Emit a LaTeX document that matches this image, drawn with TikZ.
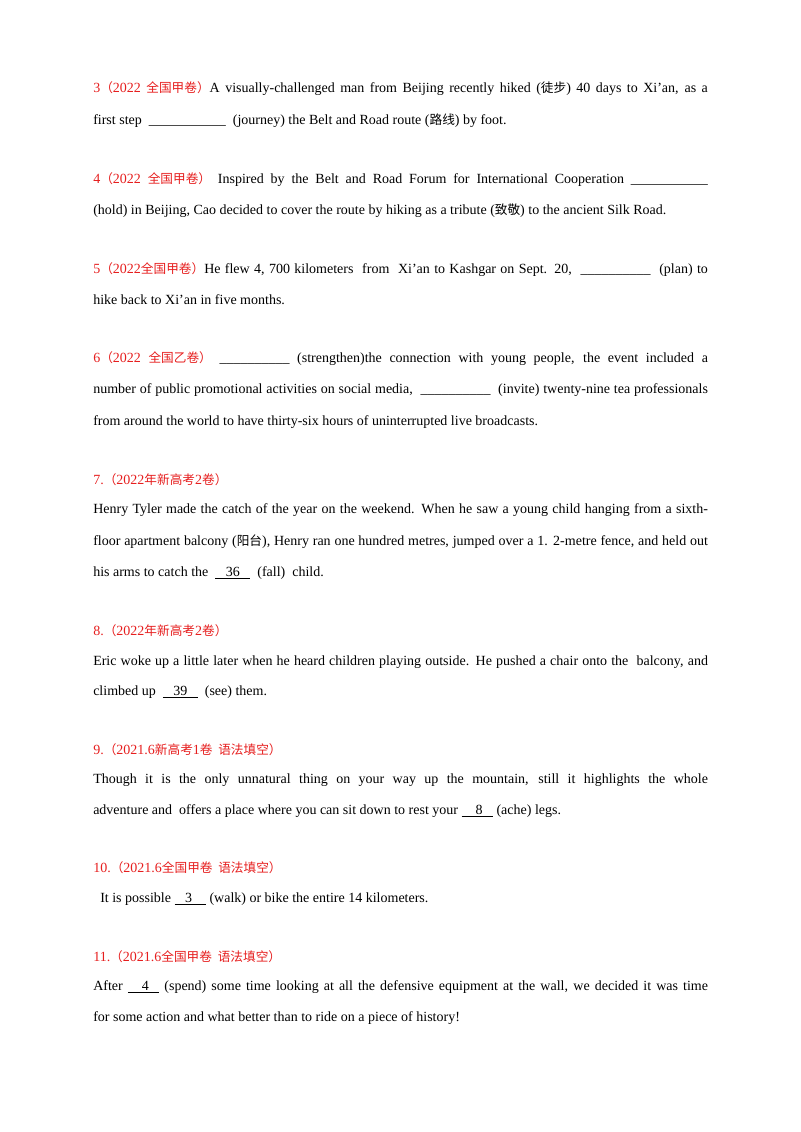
\documentclass[tikz,border=0pt]{standalone}
\usepackage{fontspec}
\setmainfont{Liberation Serif}
\newfontfamily\cjk{Noto Sans CJK SC}
\definecolor{qred}{RGB}{230,30,30}
\newcommand\cn[1]{{\cjk\fontsize{9.5pt}{11pt}\selectfont #1}}
\newcommand\hd[1]{\textcolor{qred}{#1}}
\newcommand\jl[1]{\makebox[461pt][s]{#1}}
\newcommand\ul[1]{\underline{\hbox{#1}}}
\tikzset{ln/.style={anchor=base west,inner sep=0pt,font=\fontsize{10.5pt}{12pt}\selectfont}}
\begin{document}
\begin{tikzpicture}[x=0.75pt,y=-0.75pt]
\useasboundingbox (0,0) rectangle (800,1132);
\node[ln] (l1) at (93,92) {\jl{\hd{3\cn{（}2022 \cn{全国甲卷）}}A visually-challenged man from Beijing recently hiked (\cn{徒步}) 40 days to Xi’an, as a}};
\node[ln] (l2) at (93,124) {first step \ \_\_\_\_\_\_\_\_\_\_\_ \ (journey) the Belt and Road route (\cn{路线}) by foot.};
\node[ln] (l3) at (93,183) {\jl{\hd{4\cn{（}2022 \cn{全国甲卷）}} Inspired by the Belt and Road Forum for International Cooperation \_\_\_\_\_\_\_\_\_\_\_}};
\node[ln] (l4) at (93,214) {(hold) in Beijing, Cao decided to cover the route by hiking as a tribute (\cn{致敬}) to the ancient Silk Road.};
\node[ln] (l5) at (93,273) {\jl{\hd{5\cn{（}2022\cn{全国甲卷）}}He flew 4, 700 kilometers \ from \ Xi’an to Kashgar on Sept. 20, \ \_\_\_\_\_\_\_\_\_\_ \ (plan) to}};
\node[ln] (l6) at (93,304) {hike back to Xi’an in five months.};
\node[ln] (l7) at (93,362) {\jl{\hd{6\cn{（}2022 \cn{全国乙卷）}} \_\_\_\_\_\_\_\_\_\_ (strengthen)the connection with young people, the event included a}};
\node[ln] (l8) at (93,393) {\jl{number of public promotional activities on social media, \ \_\_\_\_\_\_\_\_\_\_ \ (invite) twenty-nine tea professionals}};
\node[ln] (l9) at (93,425) {from around the world to have thirty-six hours of uninterrupted live broadcasts.};
\node[ln] (l10) at (93,484) {\hd{7.\cn{（}2022\cn{年新高考}2\cn{卷）}}};
\node[ln] (l11) at (93,513) {\jl{Henry Tyler made the catch of the year on the weekend. When he saw a young child hanging from a sixth-}};
\node[ln] (l12) at (93,545) {\jl{floor apartment balcony (\cn{阳台}), Henry ran one hundred metres, jumped over a 1. 2-metre fence, and held out}};
\node[ln] (l13) at (93,576) {his arms to catch the \ \ul{\ \ \ 36\ \ \ } \ (fall) \ child.};
\node[ln] (l14) at (93,635) {\hd{8.\cn{（}2022\cn{年新高考}2\cn{卷）}}};
\node[ln] (l15) at (93,665) {\jl{Eric woke up a little later when he heard children playing outside. He pushed a chair onto the \ balcony, and}};
\node[ln] (l16) at (93,695) {climbed up \ \ul{\ \ \ 39\ \ \ } \ (see) them.};
\node[ln] (l17) at (93,754) {\hd{9.\cn{（}2021.6\cn{新高考}1\cn{卷 \ 语法填空）}}};
\node[ln] (l18) at (93,783) {\jl{Though it is the only unnatural thing on your way up the mountain, still it highlights the whole}};
\node[ln] (l19) at (93,814) {adventure and \ offers a place where you can sit down to rest your \ul{\ \ \ \ 8\ \ \ } (ache) legs.};
\node[ln] (l20) at (93,872) {\hd{10.\cn{（}2021.6\cn{全国甲卷 \ 语法填空）}}};
\node[ln] (l21) at (93,902) {\ \ It is possible \ul{\ \ \ 3\ \ \ \ } (walk) or bike the entire 14 kilometers.};
\node[ln] (l22) at (93,961) {\hd{11.\cn{（}2021.6\cn{全国甲卷 \ 语法填空）}}};
\node[ln] (l23) at (93,990) {\jl{After \ul{\ \ \ \ 4\ \ \ } (spend) some time looking at all the defensive equipment at the wall, we decided it was time}};
\node[ln] (l24) at (93,1021) {for some action and what better than to ride on a piece of history!};
\end{tikzpicture}
\end{document}
